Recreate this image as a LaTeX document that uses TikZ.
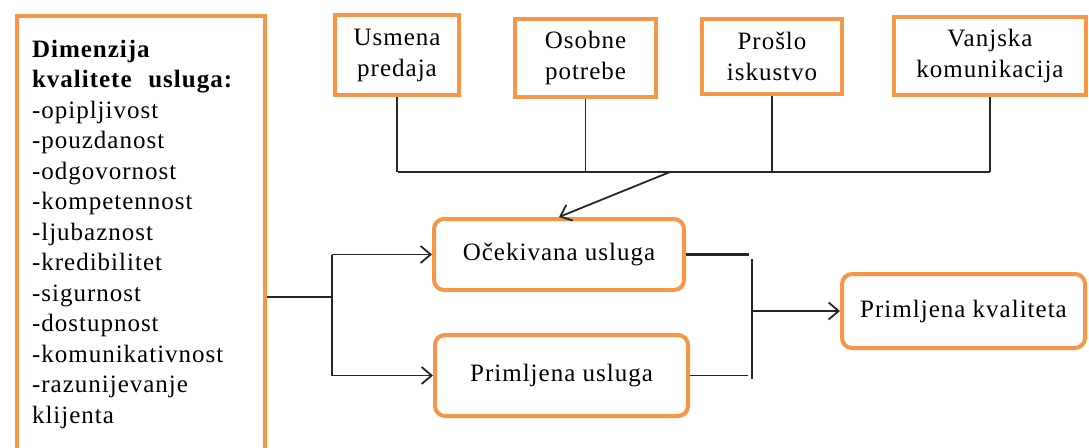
\documentclass[tikz,border=0pt]{standalone}
\usepackage{fontspec}
\setmainfont{Liberation Serif}[LetterSpace=4]
\usetikzlibrary{arrows.meta}
\definecolor{accent}{HTML}{F79646}
\definecolor{ink}{HTML}{262626}
\begin{document}
\begin{tikzpicture}[x=1pt,y=-1pt,
  box/.style={draw=accent, line width=4pt, fill=white, align=center, inner sep=0pt,
    font=\fontsize{25}{31}\selectfont},
  rbox/.style={box, rounded corners=10pt},
  conn/.style={line width=1.8pt, draw=ink},
  arr/.style={conn, -{Straight Barb[length=10pt,width=17pt,line width=1.8pt]}}]
\useasboundingbox (0,0) rectangle (1089,447);
% left box
\node[box, minimum width=248pt, minimum height=436pt, text width=218pt, align=left,
  font=\fontsize{25}{30.5}\selectfont]
  (dim) at (141,234) {\textbf{Dimenzija}\\\textbf{kvalitete\ \ usluga:}\\-opipljivost\\-pouzdanost\\-odgovornost\\-kompetennost\\-ljubaznost\\-kredibilitet\\-sigurnost\\-dostupnost\\-komunikativnost\\-razunijevanje\\klijenta};
% top boxes
\node[box, minimum width=124pt, minimum height=80pt] (usm) at (397,55) {Usmena\\predaja};
\node[box, minimum width=141pt, minimum height=78pt] (oso) at (585.5,58) {Osobne\\potrebe};
\node[box, minimum width=140pt, minimum height=75pt] (pro) at (772,56.5) {Prošlo\\iskustvo};
\node[box, minimum width=192pt, minimum height=78pt] (van) at (990,56) {Vanjska\\komunikacija};
% rounded boxes
\node[rbox, minimum width=250pt, minimum height=71pt] (oce) at (559,254.5) {Očekivana usluga};
\node[rbox, minimum width=253pt, minimum height=81pt] (pu) at (561.5,375.5) {Primljena usluga};
\node[rbox, minimum width=243pt, minimum height=74pt] (pk) at (963.5,311) {Primljena kvaliteta};
% top bus
\coordinate (busL) at (398,172);
\coordinate (busR) at (990,172);
\coordinate (d) at (670,172);
\draw[conn] (busL) -- (busR);
\draw[conn] (usm.south) -- (usm.south |- busL);
\draw[conn] (oso.south) -- (oso.south |- busL);
\draw[conn] (pro.south) -- (pro.south |- busL);
\draw[conn] (van.south) -- (van.south |- busL);
\draw[arr] (d) -- (oce.north);
% left connectors
\coordinate (lj) at (332,297);
\draw[conn] (dim.east |- lj) -- (lj);
\draw[conn] (lj |- oce.west) -- (lj |- pu.west);
\draw[arr] (lj |- oce.west) -- (oce.west);
\draw[arr] (lj |- pu.west) -- (pu.west);
% right connectors
\coordinate (rj) at (752,311);
\coordinate (ra) at (749,254.5);
\coordinate (rb) at (748,375.5);
\draw[conn, line width=3pt] (oce.east) -- (ra);
\draw[conn] (pu.east) -- (rb);
\draw[conn, line width=2.4pt] (752,259) -- (752,379);
\draw[arr] (rj) -- (pk.west);
\end{tikzpicture}
\end{document}
